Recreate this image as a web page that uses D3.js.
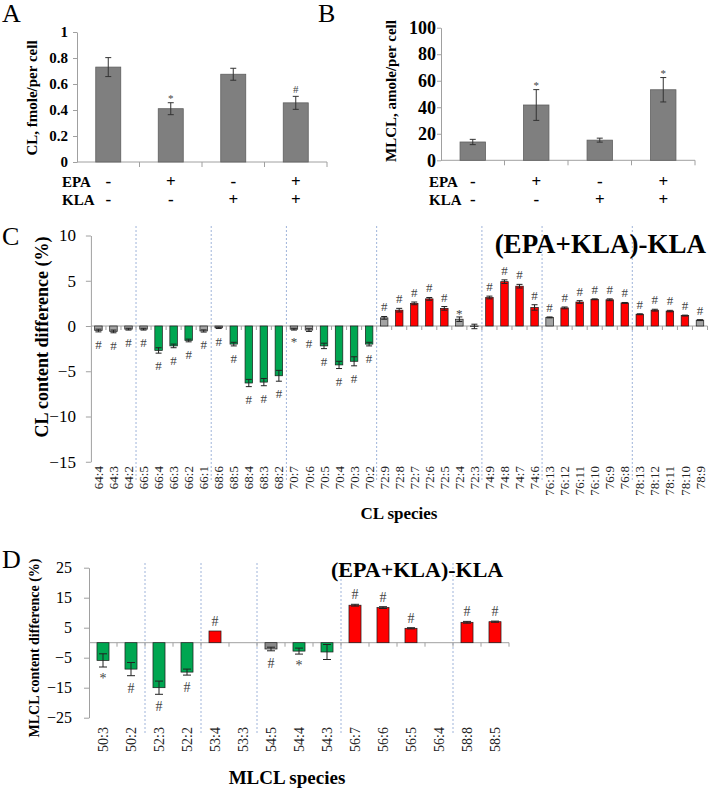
<!DOCTYPE html>
<html>
<head>
<meta charset="utf-8">
<script src="https://cdn.jsdelivr.net/npm/d3@7"></script>
<style>
body{margin:0;background:#fff}
svg{display:block}
</style>
</head>
<body>
<div id="chart"></div>
<script>
// A/B: totals per treatment
const treatments = ["ctrl","EPA","KLA","EPA+KLA"];
const epaSign = ["-","+","-","+"];
const klaSign = ["-","-","+","+"];
const clTotal = [0.73,0.41,0.675,0.455];
const clTotalErr = [0.073,0.046,0.046,0.05];
const clTotalMark = ["","*","","#"];
const clTotalTicks = [0,0.2,0.4,0.6,0.8,1];
const mlclTotal = [13.8,41.7,15.2,53.2];
const mlclTotalErr = [2,11.6,1.5,9.2];
const mlclTotalMark = ["","*","","*"];
const mlclTotalTicks = [0,20,40,60,80,100];

// C: CL species difference, (EPA+KLA)-KLA
const clSpecies = ["64:4","64:3","64:2","66:5","66:4","66:3","66:2","66:1","68:6","68:5","68:4","68:3","68:2",
  "70:7","70:6","70:5","70:4","70:3","70:2","72:9","72:8","72:7","72:6","72:5","72:4","72:3",
  "74:9","74:8","74:7","74:6","76:13","76:12","76:11","76:10","76:9","76:8","78:13","78:12","78:11","78:10","78:9"];
const clDiff = [-0.5,-0.6,-0.35,-0.35,-2.7,-2.2,-1.6,-0.55,-0.2,-2.0,-6.3,-6.2,-5.5,
  -0.35,-0.45,-2.2,-4.3,-3.9,-2.0,0.9,1.75,2.5,3.0,1.95,0.75,-0.05,
  3.15,4.9,4.4,2.05,0.95,2.0,2.65,2.95,2.9,2.55,1.3,1.75,1.65,1.15,0.65];
const clErr = [0.15,0.15,0.1,0.1,0.3,0.2,0.15,0.12,0.08,0.2,0.4,0.4,0.6,
  0.1,0.15,0.3,0.4,0.5,0.2,0.15,0.2,0.15,0.15,0.2,0.25,0.25,
  0.15,0.2,0.2,0.3,0.05,0.1,0.15,0.05,0.1,0.05,0.05,0.1,0.08,0.05,0.05];
// n = small change, d = decrease, u = increase
const clTrend = ["n","n","n","n","d","d","d","n","n","d","d","d","d",
  "n","n","d","d","d","d","n","u","u","u","u","n","n",
  "u","u","u","u","n","u","u","u","u","u","u","u","u","u","n"];
const clMark = ["#","#","#","#","#","#","#","#","#","#","#","#","#",
  "*","#","#","#","#","#","#","#","#","#","#","*","",
  "#","#","#","#","#","#","#","#","#","#","#","#","#","#","#"];
const clTicks = [-15,-10,-5,0,5,10];

// D: MLCL species difference
const mlclSpecies = ["50:3","50:2","52:3","52:2","53:4","53:3","54:5","54:4","54:3","56:7","56:6","56:5","56:4","58:8","58:5"];
const mlclDiff = [-5.9,-8.8,-15,-9.8,3.9,0,-2.1,-2.8,-3.1,12.5,11.7,4.8,0,6.8,7.0];
const mlclErr = [2.2,2.2,2.2,1.0,0,0,0.6,1.0,2.5,0.3,0.3,0.2,0,0.3,0.2];
const mlclTrend = ["d","d","d","d","u","n","g","d","d","u","u","u","n","u","u"];
const mlclMark = ["*","#","#","#","#","","#","*","","#","#","#","","#","#"];
const mlclTicks = [-25,-15,-5,5,15,25];

const serif = '"Liberation Serif","Times New Roman",serif';
const W = 708, H = 789;
const svg = d3.select("#chart").append("svg")
  .attr("width",W).attr("height",H)
  .attr("font-family",serif);
svg.append("rect").attr("width",W).attr("height",H).attr("fill","#fff");

const trendColor = {n:"#a3a3a3", g:"#8a8a8a", d:"#00a651", u:"#ff0000"};

function totalPanel(p){
  const x = d3.scaleBand().domain(treatments).range([p.left,p.right]).paddingInner(0.6).paddingOuter(0.3);
  const y = d3.scaleLinear().domain([0,p.max]).range([p.bottom,p.top]);
  const g = svg.append("g");

  const ya = g.append("g").attr("transform",`translate(${p.left},0)`)
    .call(d3.axisLeft(y).tickValues(p.ticks).tickFormat(d=>String(d)).tickSize(4).tickSizeOuter(0).tickPadding(p.pad));
  ya.attr("font-family",serif).attr("font-size",p.tickFont).attr("font-weight","bold");
  ya.select(".domain").attr("stroke","#a0a0a0");
  ya.selectAll(".tick line").attr("stroke","#a0a0a0");
  ya.selectAll(".tick text").attr("fill","#000");

  g.append("line").attr("x1",p.left).attr("x2",p.right).attr("y1",y(0)).attr("y2",y(0)).attr("stroke","#a0a0a0");
  g.selectAll(".bt").data(treatments).enter().append("line")
    .attr("x1",d=>x(d)+x.bandwidth()+(x.step()-x.bandwidth())/2)
    .attr("x2",d=>x(d)+x.bandwidth()+(x.step()-x.bandwidth())/2)
    .attr("y1",y(0)).attr("y2",y(0)+5).attr("stroke","#a0a0a0");

  g.selectAll(".bar").data(p.values).enter().append("rect")
    .attr("x",(d,i)=>x(treatments[i])).attr("width",x.bandwidth())
    .attr("y",d=>y(d)).attr("height",d=>y(0)-y(d))
    .attr("fill","#7f7f7f").attr("stroke","#5f5f5f").attr("stroke-width",0.8);

  const cx = i=>x(treatments[i])+x.bandwidth()/2;
  p.values.forEach((v,i)=>{
    const e = p.errs[i];
    g.append("line").attr("x1",cx(i)).attr("x2",cx(i)).attr("y1",y(v-e)).attr("y2",y(v+e)).attr("stroke","#333");
    [v-e,v+e].forEach(t=>g.append("line").attr("x1",cx(i)-3).attr("x2",cx(i)+3).attr("y1",y(t)).attr("y2",y(t)).attr("stroke","#333"));
    if(p.marks[i]) g.append("text").attr("x",cx(i)).attr("y",y(v+e)+(p.marks[i]==="*"?-1:-3))
      .attr("text-anchor","middle").attr("font-size",11).attr("fill","#444").text(p.marks[i]);
    g.append("text").attr("x",cx(i)).attr("y",187).attr("text-anchor","middle")
      .attr("font-size",17).attr("font-weight","bold").text(epaSign[i]);
    g.append("text").attr("x",cx(i)).attr("y",205).attr("text-anchor","middle")
      .attr("font-size",17).attr("font-weight","bold").text(klaSign[i]);
  });

  g.append("text").attr("x",p.rowX).attr("y",187).attr("font-size",15).attr("font-weight","bold").text("EPA");
  g.append("text").attr("x",p.rowX).attr("y",205).attr("font-size",15).attr("font-weight","bold").text("KLA");
  g.append("text").attr("transform",`translate(${p.ylabX},${p.ylabY}) rotate(-90)`)
    .attr("text-anchor","middle").attr("font-size",15).attr("font-weight","bold").text(p.ylabel);
  g.append("text").attr("x",p.letterX).attr("y",22).attr("font-size",26).text(p.letter);
}

function diffPanel(p){
  const x = d3.scaleBand().domain(p.species).range([p.left,p.right]).paddingInner(p.padIn).paddingOuter(p.padIn/2);
  const y = d3.scaleLinear().domain(p.domain).range([p.bottom,p.top]);
  const g = svg.append("g");
  const step = x.step();

  // group separators where the carbon number changes
  const pre = s=>s.split(":")[0];
  const seps = p.species.map((s,i)=>i).filter(i=>i>0 && pre(p.species[i])!==pre(p.species[i-1]));
  g.selectAll(".sep").data(seps).enter().append("line")
    .attr("x1",i=>p.left+i*step).attr("x2",i=>p.left+i*step)
    .attr("y1",p.sepTop).attr("y2",p.sepBottom)
    .attr("stroke","#9fb4da").attr("stroke-width",1).attr("stroke-dasharray","2,2");

  const ya = g.append("g").attr("transform",`translate(${p.left},0)`)
    .call(d3.axisLeft(y).tickValues(p.ticks).tickSize(5).tickSizeOuter(0).tickPadding(p.tickPad));
  ya.attr("font-family",serif).attr("font-size",p.tickFont);
  ya.select(".domain").attr("stroke","#a0a0a0");
  ya.selectAll(".tick line").attr("stroke","#a0a0a0");
  ya.selectAll(".tick text").attr("fill","#000");

  g.append("line").attr("x1",p.left).attr("x2",p.right).attr("y1",y(0)).attr("y2",y(0)).attr("stroke","#a0a0a0");
  g.selectAll(".bt").data(p.species).enter().append("line")
    .attr("x1",(d,i)=>p.left+(i+1)*step).attr("x2",(d,i)=>p.left+(i+1)*step)
    .attr("y1",y(0)).attr("y2",y(0)+4).attr("stroke","#a0a0a0");

  const xa = g.append("g").attr("transform",`translate(0,${p.labelTop})`)
    .call(d3.axisBottom(x).tickSize(0).tickPadding(0));
  xa.select(".domain").remove();
  xa.attr("font-family",serif).attr("font-size",p.labFont);
  xa.selectAll(".tick text").attr("transform","rotate(-90)").attr("x",0).attr("y",0)
    .attr("dy","0.35em").attr("text-anchor","end").attr("fill","#222");

  const cx = i=>x(p.species[i])+x.bandwidth()/2;
  p.values.forEach((v,i)=>{
    const e = p.errs[i];
    if(v!==0) g.append("rect").attr("x",x(p.species[i])).attr("width",x.bandwidth())
      .attr("y",y(Math.max(v,0))).attr("height",Math.abs(y(v)-y(0)))
      .attr("fill",trendColor[p.trend[i]]).attr("stroke","#1a1a1a").attr("stroke-width",0.7);
    if(e>0){
      g.append("line").attr("x1",cx(i)).attr("x2",cx(i)).attr("y1",y(v-e)).attr("y2",y(v+e)).attr("stroke","#222");
      [v-e,v+e].forEach(t=>g.append("line").attr("x1",cx(i)-p.cap).attr("x2",cx(i)+p.cap)
        .attr("y1",y(t)).attr("y2",y(t)).attr("stroke","#222"));
    }
    const m = p.marks[i];
    if(m){
      const yy = v<0 ? y(v-e)+(m==="*"?16:17) : y(v+e)+(m==="*"?1:-5);
      g.append("text").attr("x",cx(i)).attr("y",yy).attr("text-anchor","middle")
        .attr("font-size",p.markFont).attr("fill","#444").text(m);
    }
  });

  g.append("text").attr("x",p.titleX).attr("y",p.titleY).attr("text-anchor",p.titleAnchor)
    .attr("font-size",p.titleFont).attr("font-weight","bold").text("(EPA+KLA)-KLA");
  g.append("text").attr("transform",`translate(${p.ylabX},${p.ylabY}) rotate(-90)`)
    .attr("text-anchor","middle").attr("font-size",p.ylabFont).attr("font-weight","bold").text(p.ylabel);
  g.append("text").attr("x",p.xlabX).attr("y",p.xlabY).attr("text-anchor","middle")
    .attr("font-size",p.xlabFont).attr("font-weight","bold").text(p.xlabel);
  g.append("text").attr("x",2).attr("y",p.letterY).attr("font-size",26).text(p.letter);
}

totalPanel({left:77,right:327,top:32,bottom:162,max:1,ticks:clTotalTicks,values:clTotal,errs:clTotalErr,
  marks:clTotalMark,tickFont:15,pad:5,rowX:62,ylabX:37,ylabY:98,ylabel:"CL, fmole/per cell",letter:"A",letterX:2});
totalPanel({left:441,right:695,top:27.7,bottom:160.3,max:100,ticks:mlclTotalTicks,values:mlclTotal,errs:mlclTotalErr,
  marks:mlclTotalMark,tickFont:18,pad:1,rowX:429,ylabX:396,ylabY:91,ylabel:"MLCL, amole/per cell",letter:"B",letterX:318});

diffPanel({species:clSpecies,values:clDiff,errs:clErr,trend:clTrend,marks:clMark,
  left:90.9,right:707.5,top:235.5,bottom:461.75,domain:[-15,10],ticks:clTicks,padIn:0.5,cap:3,
  tickFont:17,tickPad:10,labFont:13,labelTop:466,sepTop:226,sepBottom:482,markFont:13,
  titleX:706,titleY:253,titleAnchor:"end",titleFont:27,
  ylabel:"CL content difference (%)",ylabX:48,ylabY:337,ylabFont:18,
  xlabel:"CL species",xlabX:399,xlabY:519,xlabFont:17,letter:"C",letterY:245});

diffPanel({species:mlclSpecies,values:mlclDiff,errs:mlclErr,trend:mlclTrend,marks:mlclMark,
  left:89,right:509,top:567.7,bottom:717.7,domain:[-25,25],ticks:mlclTicks,padIn:0.57,cap:4,
  tickFont:16,tickPad:12,labFont:14,labelTop:727,sepTop:563,sepBottom:735,markFont:14,
  titleX:331,titleY:577,titleAnchor:"start",titleFont:22,
  ylabel:"MLCL content difference (%)",ylabX:39,ylabY:648,ylabFont:14,
  xlabel:"MLCL species",xlabX:287,xlabY:784,xlabFont:19,letter:"D",letterY:568});
</script>
</body>
</html>
